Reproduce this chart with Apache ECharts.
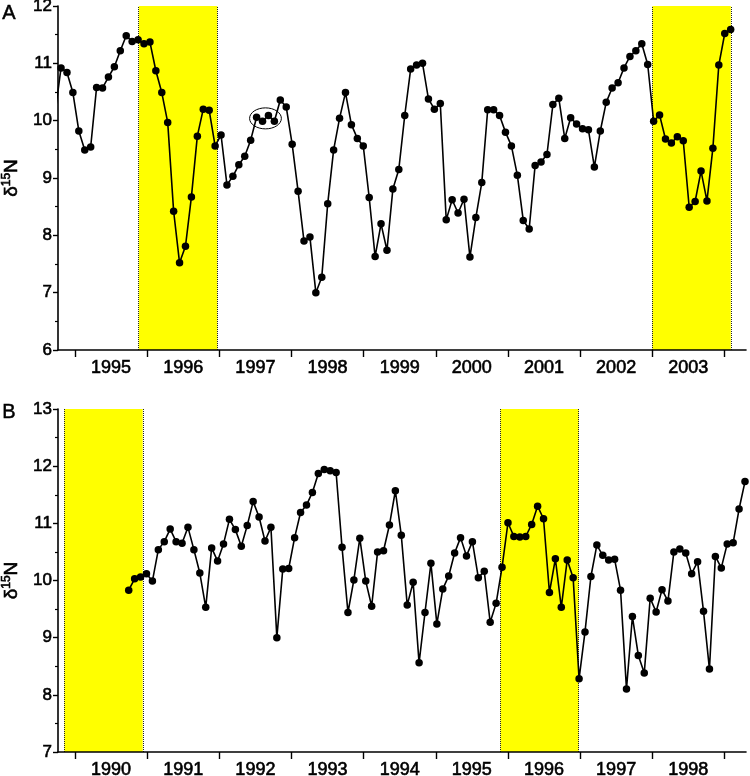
<!DOCTYPE html>
<html><head><meta charset="utf-8">
<script src="https://cdn.jsdelivr.net/npm/echarts@6/dist/echarts.min.js"></script>
<style>html,body{margin:0;padding:0;background:#fff}#c{width:750px;height:776px}</style>
</head><body><div id="c"></div>
<script>
// ---- data ----
// Panel A: samples every ~30 days starting at decimal year startA (first sample lies just left of the axis)
const valuesA = [10.14, 10.92, 10.84, 10.49, 9.82, 9.49, 9.54, 10.58, 10.57, 10.76,
  10.94, 11.22, 11.48, 11.38, 11.41, 11.34, 11.37, 10.87, 10.49, 9.97,
  8.42, 7.52, 7.81, 8.67, 9.73, 10.20, 10.18, 9.56, 9.75, 8.88,
  9.03, 9.23, 9.38, 9.66, 10.06, 9.99, 10.09, 9.99, 10.36, 10.24,
  9.59, 8.77, 7.90, 7.97, 7.00, 7.27, 8.55, 9.49, 10.04, 10.49,
  9.93, 9.69, 9.56, 8.66, 7.63, 8.20, 7.74, 8.81, 9.15, 10.09,
  10.90, 10.97, 11.00, 10.38, 10.20, 10.30, 8.27, 8.62, 8.39, 8.63,
  7.62, 8.31, 8.92, 10.19, 10.19, 10.09, 9.80, 9.56, 9.05, 8.26,
  8.11, 9.22, 9.28, 9.41, 10.28, 10.39, 9.69, 10.05, 9.94, 9.86,
  9.84, 9.19, 9.82, 10.32, 10.57, 10.66, 10.92, 11.12, 11.22, 11.34,
  10.98, 9.99, 10.10, 9.68, 9.61, 9.72, 9.65, 8.49, 8.59, 9.12,
  8.60, 9.52, 10.97, 11.52, 11.59];
const valuesB = [9.83, 10.03, 10.06, 10.12, 9.99, 10.54, 10.68, 10.90, 10.68, 10.65,
  10.93, 10.54, 10.13, 9.53, 10.57, 10.34, 10.64, 11.07, 10.89, 10.60,
  10.96, 11.38, 11.11, 10.69, 10.93, 9.00, 10.20, 10.21, 10.75, 11.19,
  11.32, 11.54, 11.87, 11.94, 11.92, 11.89, 10.58, 9.44, 10.01, 10.74,
  9.99, 9.55, 10.50, 10.52, 10.97, 11.57, 10.79, 9.57, 9.97, 8.56,
  9.44, 10.30, 9.24, 9.85, 10.08, 10.48, 10.75, 10.43, 10.68, 10.05,
  10.16, 9.27, 9.60, 10.23, 11.01, 10.77, 10.76, 10.77, 10.98, 11.30,
  11.08, 9.79, 10.38, 9.53, 10.36, 10.05, 8.28, 9.10, 10.07, 10.62,
  10.44, 10.36, 10.37, 9.83, 8.10, 9.37, 8.69, 8.38, 9.69, 9.45,
  9.84, 9.64, 10.50, 10.55, 10.48, 10.12, 10.33, 9.46, 8.45, 10.42,
  10.22, 10.64, 10.66, 11.25, 11.73];
const startA = 1994.724;
const startB = 1990.744;
const sampleStepDays = 30;
const yearTicksA = [1995, 1996, 1997, 1998, 1999, 2000, 2001, 2002, 2003, 2004];
const yearLabelsA = [1995, 1996, 1997, 1998, 1999, 2000, 2001, 2002, 2003];
const yearTicksB = [1990, 1991, 1992, 1993, 1994, 1995, 1996, 1997, 1998, 1999];
const yearLabelsB = [1990, 1991, 1992, 1993, 1994, 1995, 1996, 1997, 1998];
const xRangeA = [1994.764, 2004.3];
const xRangeB = [1989.764, 1999.3];
const yRangeA = [6, 12];
const yRangeB = [7, 13];
const bandsA = [[1995.883, 1996.973], [2003.002, 2004.089]];
const bandsB = [[1989.852, 1990.938], [1995.896, 1996.982]];
const circledA = [34, 37]; // indices in valuesA enclosed by the ellipse

// ---- build ----
const step = sampleStepDays / 365.25;
const seriesData = (vals, start) => vals.map((v, i) => [start + i * step, v]);
const dataA = seriesData(valuesA, startA);
const dataB = seriesData(valuesB, startB);

const FONT = "'Liberation Sans', Arial, Helvetica, sans-serif";
const heavy = { textBorderColor: '#000', textBorderWidth: 0.6 };

function xAxis(gi, range, ticks, labels) {
  return {
    type: 'value', gridIndex: gi, min: range[0], max: range[1], z: 10,
    axisLine: { show: true, onZero: false, lineStyle: { color: '#000', width: 1.6 } },
    axisTick: { show: true, length: 7, inside: false, customValues: ticks, lineStyle: { color: '#000', width: 1.4 } },
    axisLabel: Object.assign({ show: true, customValues: labels.map(y => y + 0.5), formatter: v => String(Math.floor(v)),
      color: '#000', fontSize: 18, fontFamily: FONT, margin: 9 }, heavy),
    splitLine: { show: false }
  };
}
function yAxis(gi, range) {
  return {
    type: 'value', gridIndex: gi, min: range[0], max: range[1], interval: 1, z: 10,
    axisLine: { show: true, onZero: false, lineStyle: { color: '#000', width: 1.6 } },
    axisTick: { show: true, length: 5, lineStyle: { color: '#000', width: 1.4 } },
    minorTick: { show: true, splitNumber: 2, length: 3, lineStyle: { color: '#000', width: 1.2 } },
    axisLabel: Object.assign({ color: '#000', fontSize: 17, fontFamily: FONT, margin: 6 }, heavy),
    splitLine: { show: false },
    name: '{a|δ}{s|15}{a|N}', nameLocation: 'middle', nameRotate: 90, nameGap: 32,
    nameTextStyle: {
      rich: {
        a: Object.assign({ fontSize: 19, fontFamily: FONT, color: '#000', lineHeight: 22 }, heavy),
        s: Object.assign({ fontSize: 12, fontFamily: FONT, color: '#000', verticalAlign: 'top', lineHeight: 22, padding: [0, 0, 8, 0] }, heavy)
      }
    }
  };
}
function bandSeries(xi, yi, bands) {
  return {
    type: 'line', xAxisIndex: xi, yAxisIndex: yi, data: [], z: 1, silent: true,
    markArea: { silent: true, itemStyle: { color: '#ffff00', opacity: 1 },
      data: bands.map(b => [{ xAxis: b[0] }, { xAxis: b[1] }]) },
    markLine: { silent: true, symbol: 'none', label: { show: false },
      lineStyle: { type: 'dotted', color: '#222', width: 1 },
      data: bands.flat().map(x => ({ xAxis: x })) }
  };
}
function dataSeries(xi, yi, data) {
  return {
    type: 'line', xAxisIndex: xi, yAxisIndex: yi, data: data, z: 5, clip: true,
    symbol: 'circle', symbolSize: 7.5, showAllSymbol: true,
    lineStyle: { color: '#000', width: 1.6 }, itemStyle: { color: '#000' }
  };
}

const letters = [
  { type: 'text', left: 2, top: 3, style: { text: 'A', font: '20px ' + FONT, fill: '#000', stroke: '#000', lineWidth: 0.5 } },
  { type: 'text', left: 2, top: 402, style: { text: 'B', font: '20px ' + FONT, fill: '#000', stroke: '#000', lineWidth: 0.5 } }
];

const chart = echarts.init(document.getElementById('c'), null, { renderer: 'canvas' });
chart.setOption({
  animation: false,
  backgroundColor: '#fff',
  grid: [
    { left: 58, right: 4, top: 6, height: 344, outerBoundsMode: 'none', containLabel: false },
    { left: 58, right: 4, top: 409, height: 343, outerBoundsMode: 'none', containLabel: false }
  ],
  xAxis: [xAxis(0, xRangeA, yearTicksA, yearLabelsA), xAxis(1, xRangeB, yearTicksB, yearLabelsB)],
  yAxis: [yAxis(0, yRangeA), yAxis(1, yRangeB)],
  series: [
    bandSeries(0, 0, bandsA), dataSeries(0, 0, dataA),
    bandSeries(1, 1, bandsB), dataSeries(1, 1, dataB)
  ],
  graphic: letters
});

// ellipse around the circled group of points in panel A
const p0 = chart.convertToPixel({ gridIndex: 0 }, dataA[circledA[0]]);
const p1 = chart.convertToPixel({ gridIndex: 0 }, dataA[circledA[1]]);
const grp = valuesA.slice(circledA[0], circledA[1] + 1);
const midV = (Math.max(...grp) + Math.min(...grp)) / 2;
const pm = chart.convertToPixel({ gridIndex: 0 }, [dataA[circledA[0]][0], midV]);
chart.setOption({
  graphic: letters.concat([
    { type: 'ellipse', z: 20, silent: true,
      shape: { cx: (p0[0] + p1[0]) / 2, cy: pm[1], rx: (p1[0] - p0[0]) / 2 + 7, ry: 10.5 },
      style: { fill: 'none', stroke: '#000', lineWidth: 1 } }
  ])
});
</script>
</body></html>
